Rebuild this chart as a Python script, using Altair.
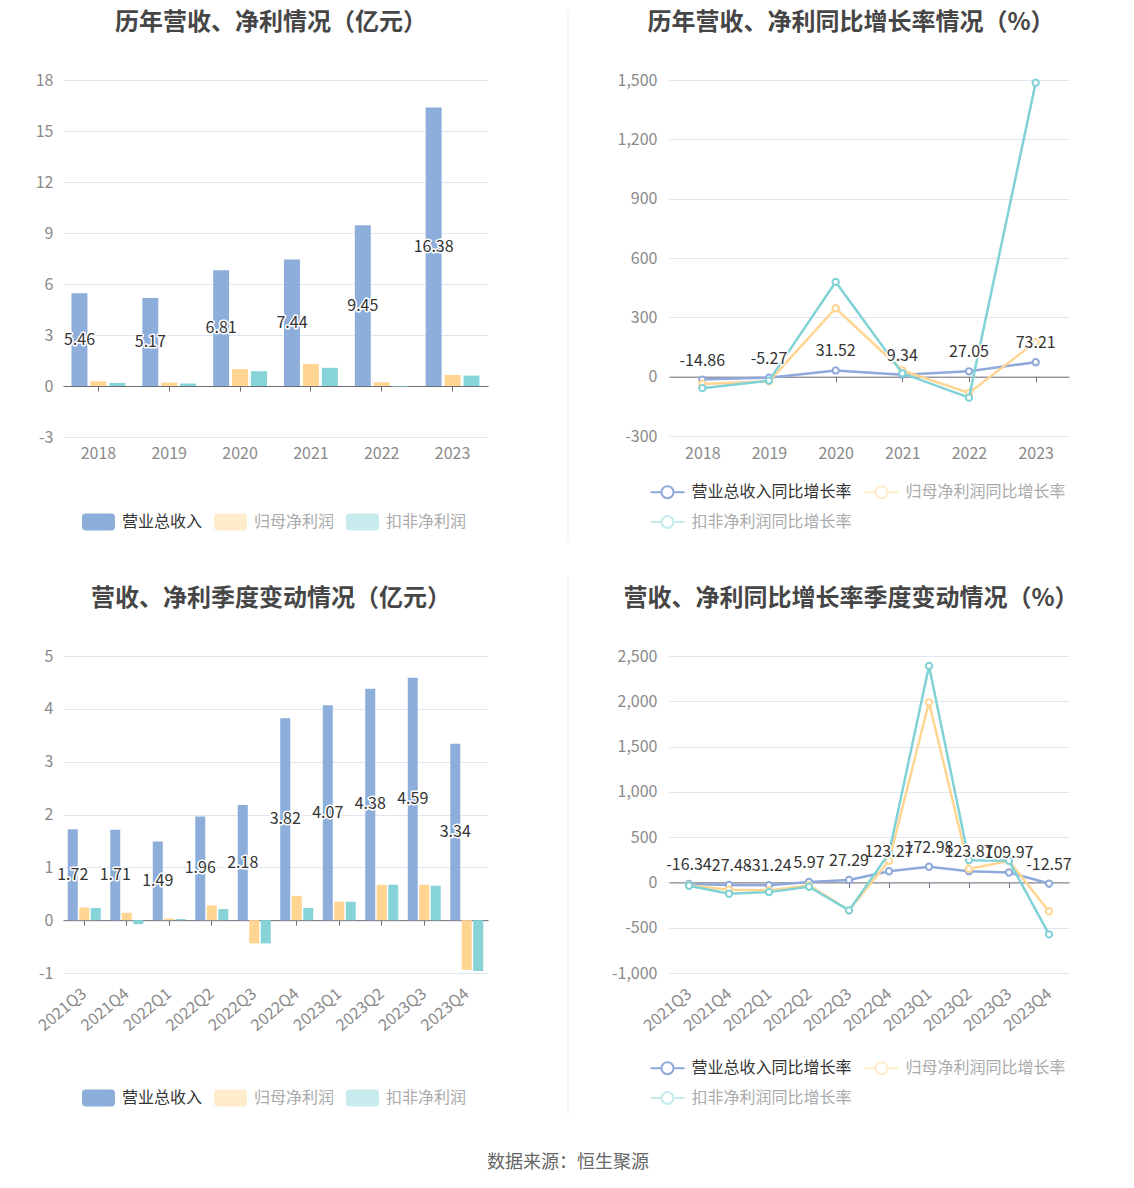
import altair as alt
import pandas as pd

FONT = "Noto Sans CJK SC"

# ---------------- data ----------------
years = ["2018", "2019", "2020", "2021", "2022", "2023"]
rev = [5.46, 5.17, 6.81, 7.44, 9.45, 16.38]
net = [0.28, 0.20, 0.99, 1.30, 0.22, 0.65]
dnet = [0.18, 0.14, 0.87, 1.07, -0.03, 0.61]

rev_g = [-14.86, -5.27, 31.52, 9.34, 27.05, 73.21]
net_g = [-37, -24, 346, 31, -82, 175]
dnet_g = [-58, -20, 479, 17, -106, 1486]

quarters = ["2021Q3", "2021Q4", "2022Q1", "2022Q2", "2022Q3",
            "2022Q4", "2023Q1", "2023Q2", "2023Q3", "2023Q4"]
q_rev = [1.72, 1.71, 1.49, 1.96, 2.18, 3.82, 4.07, 4.38, 4.59, 3.34]
q_net = [0.24, 0.14, 0.03, 0.28, -0.44, 0.46, 0.35, 0.67, 0.67, -0.94]
q_dnet = [0.23, -0.075, 0.02, 0.21, -0.44, 0.23, 0.35, 0.67, 0.65, -0.96]

q_rev_g = [-16.34, -27.48, -31.24, 5.97, 27.29, 123.27, 172.98, 123.87, 109.97, -12.57]
q_net_g = [-30, -80, -88, -33, -309, 239, 1989, 149, 239, -320]
q_dnet_g = [-37, -125, -107, -48, -309, 319, 2390, 246, 239, -574]

bar_series = ["营业总收入", "归母净利润", "扣非净利润"]
line_series = ["营业总收入同比增长率", "归母净利润同比增长率", "扣非净利润同比增长率"]
bar_colors = ["#8DAEDB", "#FFD591", "#86D4D8"]
line_colors = ["#8FA9DB", "#FFD591", "#80D2D6"]

AXIS_LINE = "#6E7079"
GRID = "#E0E6F1"
LABEL_GRAY = "#8A8A8A"
NEG_FMT = "datum.value < 0 ? '-' + format(-datum.value, ',') : format(datum.value, ',')"

BAR_LEGEND_PATH = ("M-0.76,-0.515L0.76,-0.515Q1,-0.515 1,-0.275L1,0.275Q1,0.515 0.76,0.515"
                   "L-0.76,0.515Q-1,0.515 -1,0.275L-1,-0.275Q-1,-0.515 -0.76,-0.515Z")
LINE_LEGEND_PATH = ("M-1.1,0L-0.39,0M0.39,0L1.1,0M-0.39,0A0.39,0.39 0 1,0 0.39,0"
                    "A0.39,0.39 0 1,0 -0.39,0Z")


def x_axis(zero_px, lab_pad, angle):
    kw = dict(title=None, offset=-zero_px, domainColor=AXIS_LINE, tickColor=AXIS_LINE,
              tickSize=5, labelPadding=lab_pad, labelColor=LABEL_GRAY, labelFontSize=16,
              labelFont=FONT, grid=False)
    if angle:
        kw.update(labelAngle=angle, labelAlign="right", labelBaseline="middle")
    else:
        kw.update(labelAngle=0)
    return alt.Axis(**kw)


def y_axis(vals, pad):
    return alt.Axis(title=None, values=vals, domain=False, ticks=False, labelPadding=pad,
                    labelColor=LABEL_GRAY, labelFontSize=16, labelFont=FONT,
                    gridColor=GRID, gridWidth=1, labelExpr=NEG_FMT)


def panel_title(text, dx):
    return alt.TitleParams(text=text, fontSize=24, fontWeight="bold", color="#464646",
                           font=FONT, anchor="middle", frame="group", offset=37, dx=dx)


def bar_panel(cats, vals_list, title, W, H, ymin, ymax, ystep, p_inner, p_off,
              angle, lab_pad, title_dx):
    rows = []
    for s, vals in zip(bar_series, vals_list):
        for c, v in zip(cats, vals):
            rows.append({"cat": c, "series": s, "value": v, "mid": v / 2,
                         "label": f"{v:.2f}"})
    df = pd.DataFrame(rows)
    zero_px = H * (0 - ymin) / (ymax - ymin)
    x = alt.X("cat:N", sort=cats,
              scale=alt.Scale(paddingInner=p_inner, paddingOuter=p_inner / 2),
              axis=x_axis(zero_px, lab_pad, angle))
    xo = alt.XOffset("series:N", sort=bar_series,
                     scale=alt.Scale(domain=bar_series, paddingInner=p_off, paddingOuter=0))
    yscale = alt.Scale(domain=[ymin, ymax], nice=False, zero=True)
    yax = y_axis(list(range(ymin, ymax + 1, ystep)), 10)
    color = alt.Color(
        "series:N", scale=alt.Scale(domain=bar_series, range=bar_colors),
        legend=alt.Legend(
            title=None, orient="none", legendX=19, legendY=425.5, direction="horizontal",
            symbolType=BAR_LEGEND_PATH, symbolSize=1089, symbolStrokeWidth=0,
            labelFontSize=16, labelFont=FONT, labelOffset=7, columnPadding=11,
            labelLimit=400, padding=0,
            labelColor=alt.ExprRef(f"datum.label == '{bar_series[0]}' ? '#333333' : '#AAAAAA'"),
            symbolOpacity=alt.ExprRef(f"datum.label == '{bar_series[0]}' ? 1 : 0.45"),
        ))
    base = alt.Chart(df)
    bars = base.mark_bar().encode(x=x, xOffset=xo,
                                  y=alt.Y("value:Q", scale=yscale, axis=yax), color=color)
    lab = base.transform_filter(alt.datum.series == bar_series[0])
    enc = dict(x=x, xOffset=xo, y=alt.Y("mid:Q", scale=yscale, axis=yax), text="label:N")
    halo = lab.mark_text(fontSize=16, font=FONT, fill="white", stroke="white",
                         strokeWidth=3, strokeJoin="round", baseline="middle").encode(**enc)
    txt = lab.mark_text(fontSize=16, font=FONT, color="#333333",
                        baseline="middle").encode(**enc)
    return alt.layer(bars, halo, txt).properties(width=W, height=H,
                                                  title=panel_title(title, title_dx))


def line_panel(cats, vals_list, title, W, H, ymin, ymax, ystep, angle, lab_pad, title_dx):
    rows = []
    for s, vals in zip(line_series, vals_list):
        for c, v in zip(cats, vals):
            rows.append({"cat": c, "series": s, "value": v, "label": f"{v:.2f}"})
    df = pd.DataFrame(rows)
    zero_px = H * (0 - ymin) / (ymax - ymin)
    x = alt.X("cat:N", sort=cats, axis=x_axis(zero_px, lab_pad, angle))
    y = alt.Y("value:Q", scale=alt.Scale(domain=[ymin, ymax], nice=False, zero=True),
              axis=y_axis(list(range(ymin, ymax + 1, ystep)), 12))
    color = alt.Color(
        "series:N", scale=alt.Scale(domain=line_series, range=line_colors),
        legend=alt.Legend(
            title=None, orient="none", legendX=-18, legendY=395.5, direction="horizontal",
            columns=2, symbolType=LINE_LEGEND_PATH, symbolSize=961, symbolStrokeWidth=2,
            symbolFillColor="white", labelFontSize=16, labelFont=FONT, labelOffset=7.5,
            columnPadding=8, rowPadding=3, labelLimit=400, padding=0,
            labelColor=alt.ExprRef(f"datum.label == '{line_series[0]}' ? '#333333' : '#AAAAAA'"),
            symbolOpacity=alt.ExprRef(f"datum.label == '{line_series[0]}' ? 1 : 0.45"),
        ))
    base = alt.Chart(df)
    layers = []
    for s in line_series:
        sub = base.transform_filter(alt.datum.series == s)
        layers.append(sub.mark_line(strokeWidth=2.5).encode(x=x, y=y, color=color))
        layers.append(sub.mark_point(filled=False, fill="white", fillOpacity=1, opacity=1,
                                     size=40, strokeWidth=2).encode(x=x, y=y, color=color))
    lab = base.transform_filter(alt.datum.series == line_series[0])
    enc = dict(x=x, y=y, text="label:N")
    layers.append(lab.mark_text(fontSize=16, font=FONT, fill="white", stroke="white",
                                strokeWidth=3, strokeJoin="round", baseline="alphabetic",
                                dy=-14).encode(**enc))
    layers.append(lab.mark_text(fontSize=16, font=FONT, color="#333333",
                                baseline="alphabetic", dy=-14).encode(**enc))
    return alt.layer(*layers).properties(width=W, height=H, title=panel_title(title, title_dx))


def separator(H, y1, y2):
    return alt.Chart(pd.DataFrame({"k": [0]})).mark_rule(
        color="#EEEEEE", strokeWidth=1
    ).encode(x=alt.value(-10), y=alt.value(y1), y2=alt.value(y2)).properties(width=1, height=H)


tl = bar_panel(years, [rev, net, dnet], "历年营收、净利情况（亿元）", 425, 357,
               -3, 18, 3, 0.24, 0.158, 0, 54, -4.5)
tr = line_panel(years, [rev_g, net_g, dnet_g], "历年营收、净利同比增长率情况（%）", 400, 356,
                -300, 1500, 300, 0, 64, -18)
bl = bar_panel(quarters, [q_rev, q_net, q_dnet], "营收、净利季度变动情况（亿元）", 425, 317,
               -1, 5, 1, 0.224, 0.13, -40, 66, -4.5)
br = line_panel(quarters, [q_rev_g, q_net_g, q_dnet_g], "营收、净利同比增长率季度变动情况（%）",
                400, 317, -1000, 2500, 500, -40, 104, -18)

RES = dict(x="independent", y="independent", color="independent", xOffset="independent")

row1 = alt.hconcat(tl, separator(357, -71, 461), tr, spacing=90, bounds="flush").resolve_scale(**RES)
row2 = alt.hconcat(bl, separator(317, -80, 460), br, spacing=90, bounds="flush").resolve_scale(**RES)

chart = alt.vconcat(row1, row2, spacing=576, bounds="flush").resolve_scale(**RES).properties(
    title=alt.TitleParams(text="数据来源：恒生聚源", orient="bottom", anchor="middle",
                          frame="bounds", fontSize=18, fontWeight="normal", color="#666666",
                          font=FONT, offset=37, dx=11),
    padding={"left": 27, "top": 0, "right": 0, "bottom": 0},
).configure(font=FONT).configure_view(strokeWidth=0)

chart.save("out.html", embed_options={"renderer": "svg", "actions": False})
